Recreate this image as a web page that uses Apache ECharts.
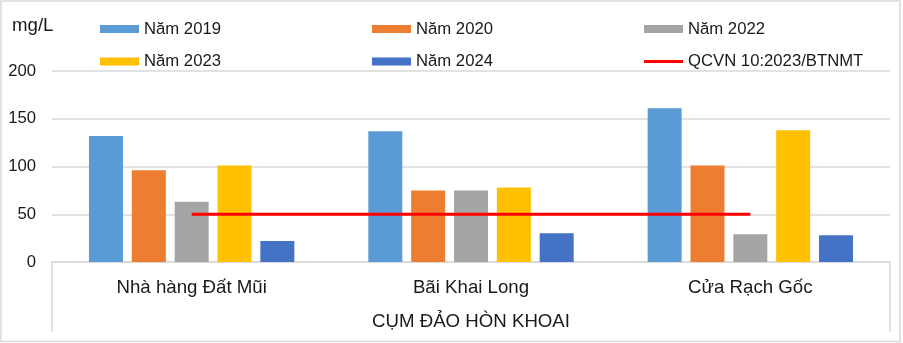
<!DOCTYPE html>
<html>
<head>
<meta charset="utf-8">
<script src="https://cdn.jsdelivr.net/npm/echarts@6/dist/echarts.min.js"></script>
<style>
html,body{margin:0;padding:0;background:#fff;}
#c{width:903px;height:343px;}
</style>
</head>
<body>
<div id="c"></div>
<script>
const categories = ['Nhà hàng Đất Mũi', 'Bãi Khai Long', 'Cửa Rạch Gốc'];
const groupLabel = 'CỤM ĐẢO HÒN KHOAI';
const unitLabel = 'mg/L';
const yTicks = [0, 50, 100, 150, 200];
const seriesNames = ['Năm 2019', 'Năm 2020', 'Năm 2022', 'Năm 2023', 'Năm 2024'];
const v2019 = [132, 137, 161];
const v2020 = [96, 75, 101];
const v2022 = [63, 75, 29];
const v2023 = [101, 78, 138];
const v2024 = [22, 30, 28];
const limitName = 'QCVN 10:2023/BTNMT';
const limitValues = [50, 50, 50];

const barValues = [v2019, v2020, v2022, v2023, v2024];
const colors = ['#5b9bd5', '#ed7d31', '#a5a5a5', '#ffc000', '#4472c4'];
const FONT = '"Liberation Sans", Arial, sans-serif';
const TXT = '#1a1a1a';

const GL = 52, GR = 13, GT = 71, GB = 81;
const W = 903, H = 343;

const legendPos = [
  [seriesNames[0], 100, 19], [seriesNames[1], 372, 19], [seriesNames[2], 644, 19],
  [seriesNames[3], 100, 51.5], [seriesNames[4], 372, 51.5], [limitName, 644, 51.5]
];
const legends = legendPos.map(([n, x, y]) => ({
  data: [n], left: x, top: y, padding: 0, selectedMode: false,
  icon: 'rect', itemWidth: 39, itemHeight: n === limitName ? 3 : 8, itemGap: 0,
  textStyle: { fontFamily: FONT, fontSize: 16.7, color: TXT, lineHeight: 20, padding: [0, 0, 0, 0] }
}));

const series = seriesNames.map((n, i) => ({
  name: n, type: 'bar', data: barValues[i], barWidth: 34, barGap: '26%',
  itemStyle: { color: colors[i] }, z: 2
}));
series.push({
  name: limitName, type: 'line', data: limitValues, symbol: 'none',
  itemStyle: { color: '#ff0000' }, lineStyle: { color: '#ff0000', width: 3 }, z: 10
});

const chart = echarts.init(document.getElementById('c'), null, { renderer: 'canvas' });
chart.setOption({
  animation: false,
  backgroundColor: '#fff',
  textStyle: { fontFamily: FONT },
  legend: legends,
  grid: { left: GL, right: GR, top: GT, bottom: GB, containLabel: false },
  xAxis: {
    type: 'category', data: categories,
    axisLine: { show: true, lineStyle: { color: '#d9d9d9', width: 1.5 } },
    axisTick: { show: false },
    axisLabel: { fontFamily: FONT, fontSize: 18.67, color: TXT, margin: 16 },
    name: groupLabel, nameLocation: 'middle', nameGap: 50,
    nameTextStyle: { fontFamily: FONT, fontSize: 18.67, color: TXT }
  },
  yAxis: {
    type: 'value', min: yTicks[0], max: yTicks[yTicks.length - 1], interval: yTicks[1] - yTicks[0],
    axisLine: { show: false }, axisTick: { show: false },
    axisLabel: { fontFamily: FONT, fontSize: 16.7, color: TXT, margin: 16 },
    splitLine: { lineStyle: { color: '#d9d9d9', width: 1.5 } }
  },
  graphic: [
    { type: 'rect', shape: { x: 1, y: 1, width: W - 4, height: H - 2.5 }, style: { fill: null, stroke: '#d9d9d9', lineWidth: 1.5 }, silent: true },
    { type: 'line', shape: { x1: GL, y1: H - GB, x2: GL, y2: 332 }, style: { stroke: '#d9d9d9', lineWidth: 1.5 }, silent: true },
    { type: 'line', shape: { x1: W - GR, y1: H - GB, x2: W - GR, y2: 332 }, style: { stroke: '#d9d9d9', lineWidth: 1.5 }, silent: true },
    { type: 'text', left: 12, top: 16, style: { text: unitLabel, font: '18.67px ' + FONT, fill: TXT }, silent: true }
  ],
  series: series
});
</script>
</body>
</html>
